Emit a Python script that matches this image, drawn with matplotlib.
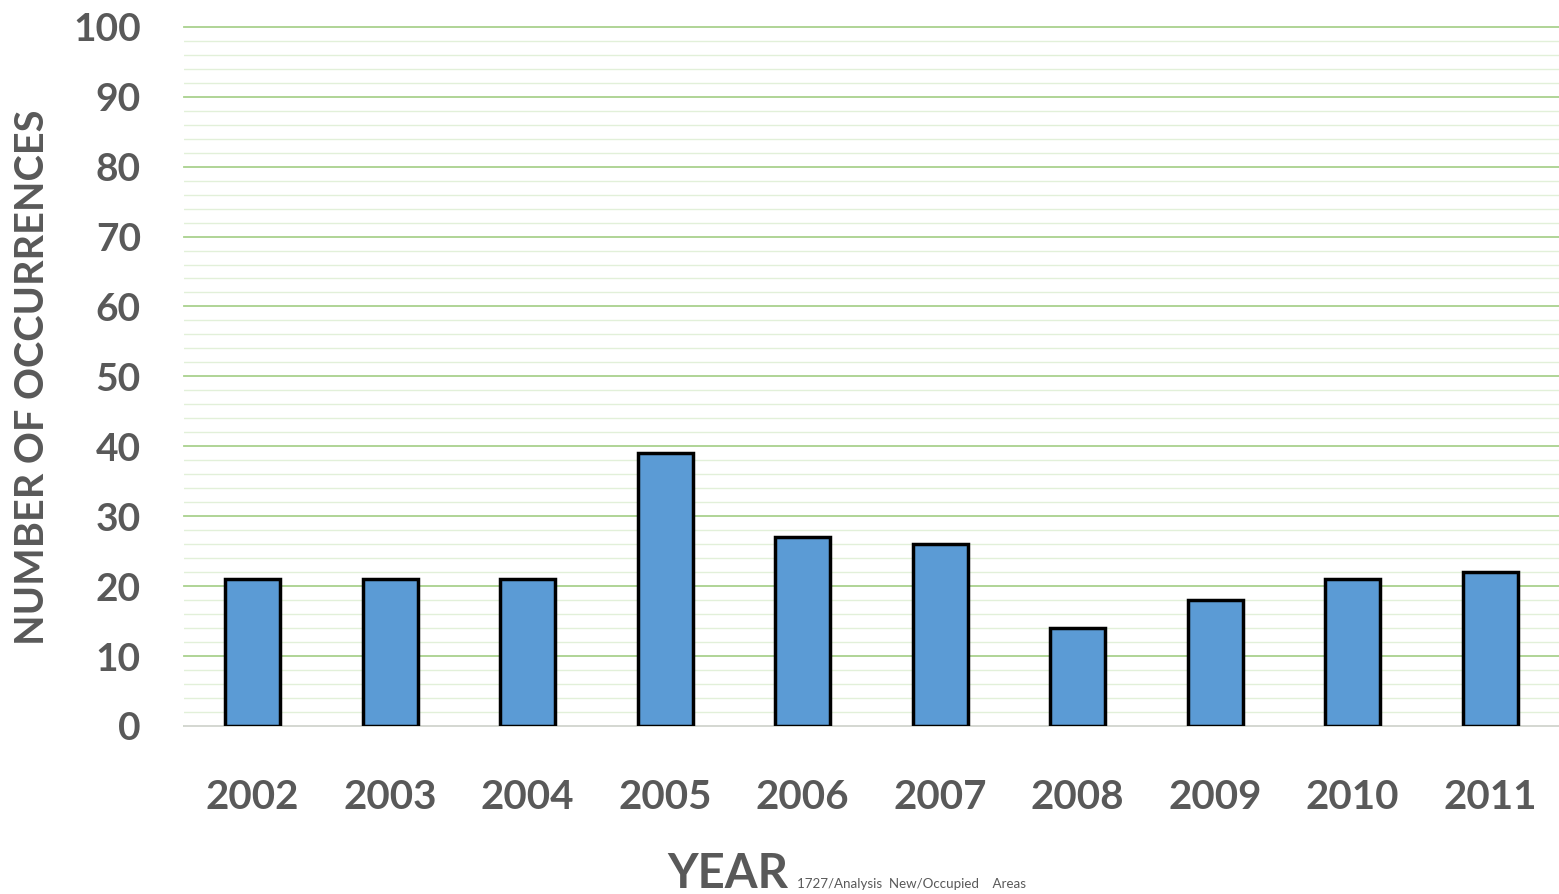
import matplotlib.pyplot as plt
from matplotlib.ticker import MultipleLocator

years = ["2002", "2003", "2004", "2005", "2006", "2007", "2008", "2009", "2010", "2011"]
occurrences = [21, 21, 21, 39, 27, 26, 14, 18, 21, 22]
y_ticks = [0, 10, 20, 30, 40, 50, 60, 70, 80, 90, 100]

plt.rcParams["font.family"] = ["Lato", "DejaVu Sans"]
text_color = "#595959"

fig = plt.figure(figsize=(15.59, 8.94), dpi=100)
ax = fig.add_axes([0.118, 0.188, 0.882, 0.782])

x = range(len(years))
ax.bar(x, occurrences, width=0.4, color="#5b9bd5", edgecolor="black",
       linewidth=2.5, zorder=3)

ax.set_xlim(-0.5, len(years) - 0.5)
ax.set_ylim(0, 100)
ax.set_yticks(y_ticks)
ax.yaxis.set_minor_locator(MultipleLocator(2))
ax.set_xticks(list(x))
ax.set_xticklabels(years)

ax.grid(axis="y", which="major", color="#a9d18e", linewidth=1.3, zorder=0)
ax.grid(axis="y", which="minor", color="#e2f0d9", linewidth=1.0, zorder=0)
for line in ax.get_ygridlines():
    line.set_clip_on(False)

for side in ("top", "right", "left"):
    ax.spines[side].set_visible(False)
ax.spines["bottom"].set_color("#d9d9d9")
ax.spines["bottom"].set_linewidth(1.3)

ax.tick_params(axis="both", which="both", length=0)
ax.tick_params(axis="y", labelsize=28, labelcolor=text_color, pad=31)
ax.tick_params(axis="x", labelsize=29, labelcolor=text_color, pad=38)
for lbl in ax.get_xticklabels() + ax.get_yticklabels():
    lbl.set_fontweight("bold")

# axis titles placed in figure coordinates
fig.text(0.021, 0.578, "NUMBER OF OCCURRENCES", fontsize=28.5, fontweight="bold",
         color=text_color, rotation=90, ha="center", va="center")
fig.text(0.428, 0.007, "YEAR", fontsize=34, fontweight="bold",
         color=text_color, ha="left", va="baseline")
fig.text(0.511, 0.007, "1727/Analysis  New/Occupied    Areas", fontsize=9.6,
         color=text_color, ha="left", va="baseline")

fig.savefig("out.png", dpi=100)
